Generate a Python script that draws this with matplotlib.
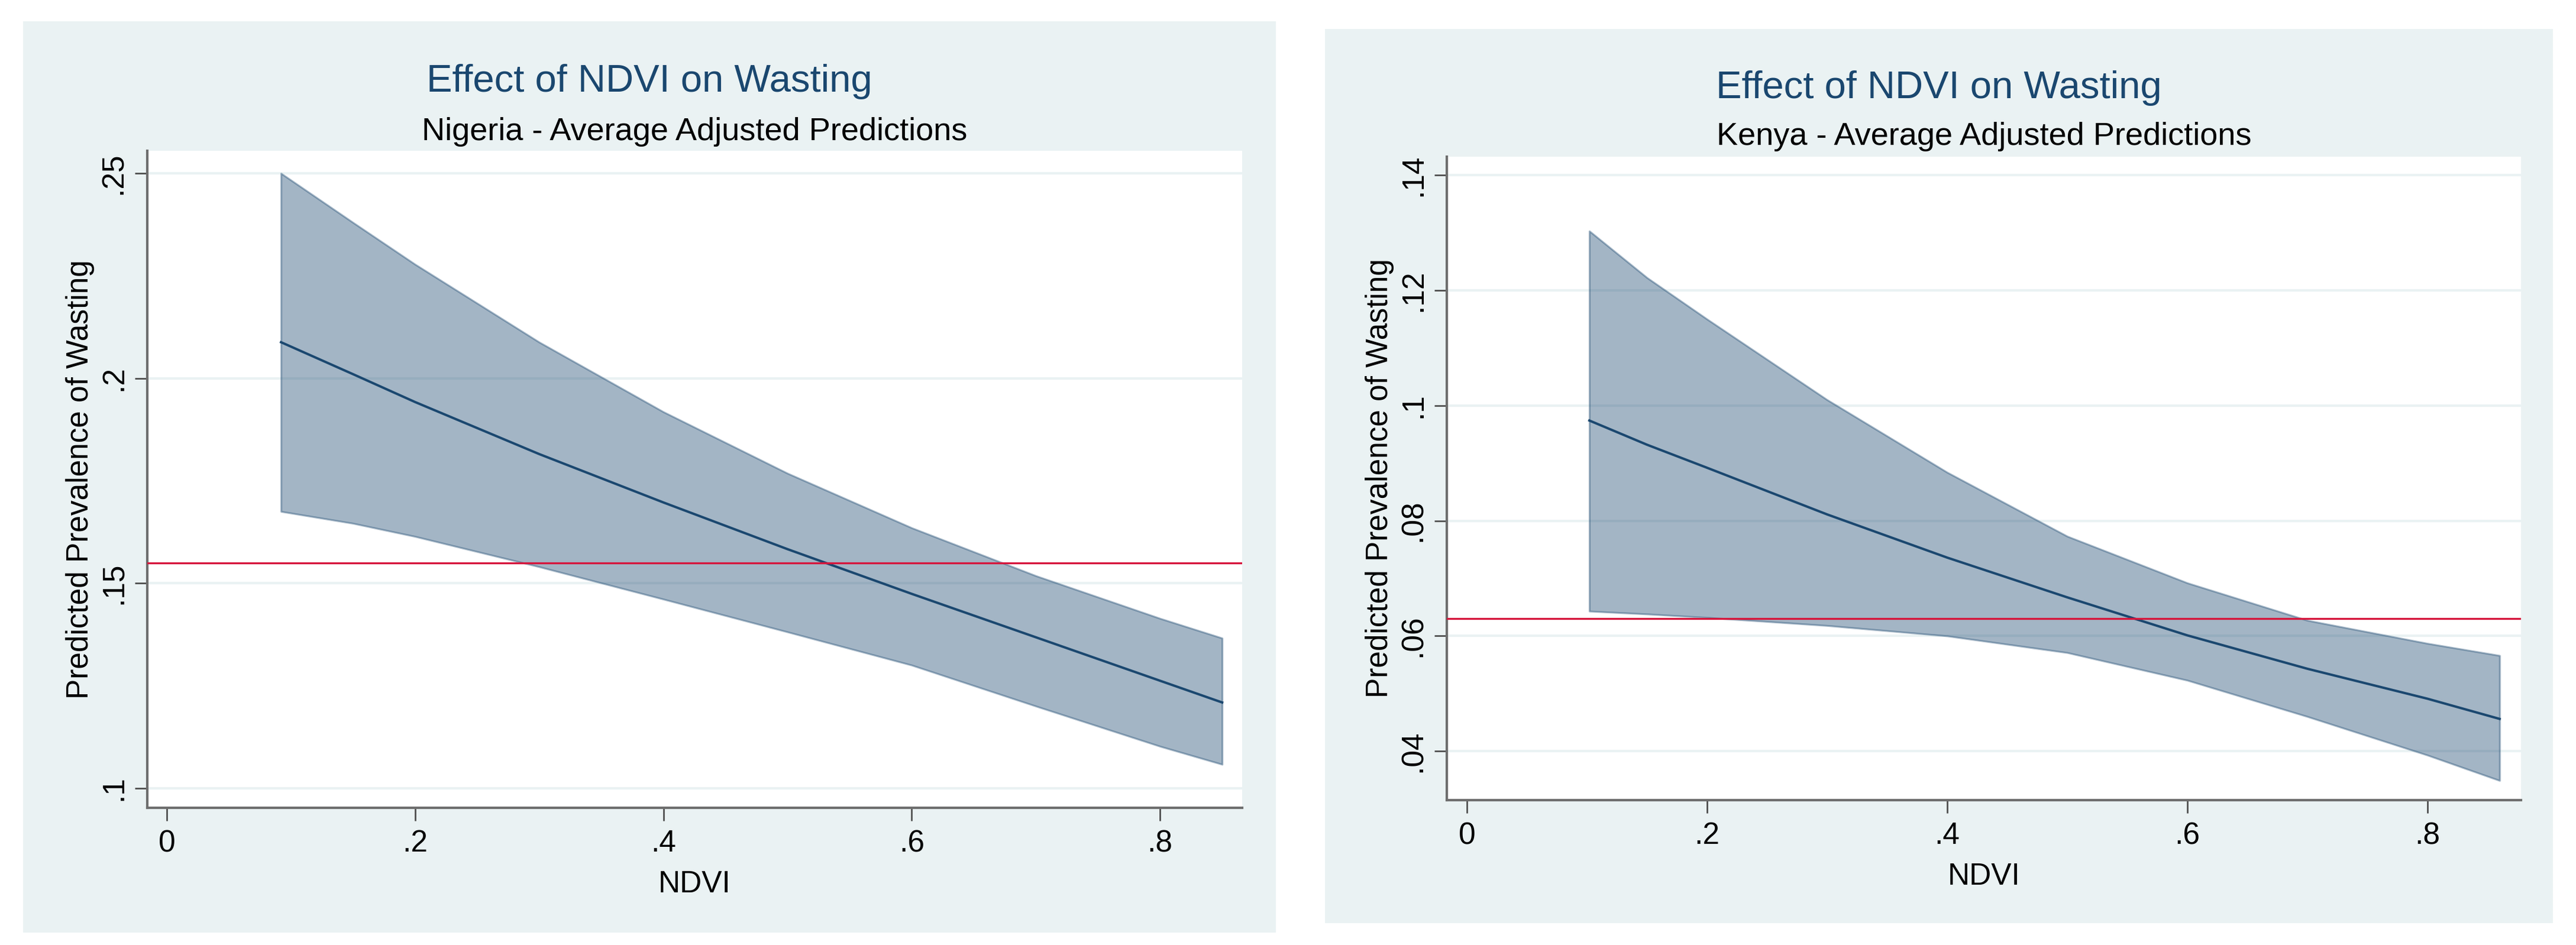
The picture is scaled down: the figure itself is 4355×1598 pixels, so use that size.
import matplotlib
matplotlib.use("Agg")
import matplotlib.pyplot as plt
from matplotlib.patches import Rectangle

# Nigeria - average adjusted predictions
ng_ndvi = [0.092, 0.15, 0.2, 0.3, 0.4, 0.5, 0.6, 0.7, 0.8, 0.85]
ng_mean = [0.2088, 0.2010, 0.1942, 0.1815, 0.1697, 0.1583, 0.1474, 0.1368, 0.1262, 0.1209]
ng_upper = [0.2500, 0.2380, 0.2278, 0.2088, 0.1918, 0.1768, 0.1635, 0.1518, 0.1414, 0.1366]
ng_lower = [0.1675, 0.1646, 0.1614, 0.1540, 0.1461, 0.1381, 0.1300, 0.1200, 0.1102, 0.1058]
ng_ref = 0.155

# Kenya - average adjusted predictions
ke_ndvi = [0.102, 0.15, 0.2, 0.3, 0.4, 0.5, 0.6, 0.7, 0.8, 0.86]
ke_mean = [0.0974, 0.0932, 0.0892, 0.0811, 0.0736, 0.0667, 0.0601, 0.0543, 0.0491, 0.0456]
ke_upper = [0.1303, 0.1222, 0.1150, 0.1010, 0.0884, 0.0773, 0.0692, 0.0627, 0.0587, 0.0566]
ke_lower = [0.0643, 0.0638, 0.0632, 0.0618, 0.0600, 0.0571, 0.0523, 0.0460, 0.0393, 0.0349]
ke_ref = 0.063

x_ticks = [0, 0.2, 0.4, 0.6, 0.8]
x_labels = ["0", ".2", ".4", ".6", ".8"]
ng_yticks = [0.1, 0.15, 0.2, 0.25]
ng_ylabels = [".1", ".15", ".2", ".25"]
ke_yticks = [0.04, 0.06, 0.08, 0.1, 0.12, 0.14]
ke_ylabels = [".04", ".06", ".08", ".1", ".12", ".14"]

NAVY = "#1A476F"
BG = "#EAF2F3"
RED = "#D6163C"
AXIS = "#6E6E6E"

W, H = 4355, 1598
plt.rcParams["font.family"] = ["Liberation Sans", "DejaVu Sans"]

fig = plt.figure(figsize=(W / 100, H / 100), dpi=100)
fig.patch.set_facecolor("white")


def fx(px):
    return px / W


def fy(py):
    return 1 - py / H


def panel(bg_box, plot_box, title_y, sub_y, subtitle, ndvi, mean, upper, lower, ref,
          yticks, ylabels, xlim, ylim):
    # graph region background
    x0, y0, x1, y1 = bg_box
    fig.patches.append(Rectangle((fx(x0), fy(y1)), fx(x1) - fx(x0), fy(y0) - fy(y1),
                                 transform=fig.transFigure, facecolor=BG,
                                 edgecolor="none", zorder=-10))
    px0, py0, px1, py1 = plot_box
    ax = fig.add_axes([fx(px0), fy(py1), fx(px1) - fx(px0), fy(py0) - fy(py1)])
    ax.set_zorder(1)
    ax.set_facecolor("white")

    ax.fill_between(ndvi, lower, upper, facecolor=NAVY, edgecolor=NAVY,
                    alpha=0.4, linewidth=2.2, zorder=2)
    ax.plot(ndvi, mean, color=NAVY, linewidth=2.9, zorder=3)
    ax.axhline(ref, color=RED, linewidth=2.4, zorder=4)

    ax.set_xlim(*xlim)
    ax.set_ylim(*ylim)
    ax.set_xticks(x_ticks)
    ax.set_xticklabels(x_labels)
    ax.set_yticks(yticks)
    ax.set_yticklabels(ylabels, rotation=90, va="center")
    ax.grid(axis="y", color=BG, linewidth=3, zorder=1)
    ax.set_axisbelow(True)

    for side in ["top", "right"]:
        ax.spines[side].set_visible(False)
    for side in ["left", "bottom"]:
        ax.spines[side].set_color(AXIS)
        ax.spines[side].set_linewidth(3)
    ax.tick_params(axis="y", length=15, width=2, color="#505050", pad=8,
                   labelsize=37)
    ax.tick_params(axis="x", length=16, width=2, color="#505050", pad=10,
                   labelsize=37)

    ax.set_xlabel("NDVI", fontsize=37, labelpad=14)
    fig.text(fx(px0 - 100), fy((py0 + py1) / 2), "Predicted Prevalence of Wasting",
             rotation=90, rotation_mode="anchor", ha="center", va="baseline",
             fontsize=37)

    fig.text(fx((x0 + x1) / 2), fy(title_y), "Effect of NDVI on Wasting",
             ha="center", va="baseline", fontsize=47, color=NAVY)
    fig.text(fx((px0 + px1) / 2), fy(sub_y), subtitle,
             ha="center", va="baseline", fontsize=39, color="black")
    return ax


panel((39, 36, 2157, 1577), (249, 255, 2100, 1366), 155, 237,
      "Nigeria - Average Adjusted Predictions",
      ng_ndvi, ng_mean, ng_upper, ng_lower, ng_ref,
      ng_yticks, ng_ylabels, (-0.0157, 0.8661), (0.0952, 0.2555))

panel((2240, 49, 4316, 1561), (2446, 265, 4262, 1353), 166, 245,
      "Kenya - Average Adjusted Predictions",
      ke_ndvi, ke_mean, ke_upper, ke_lower, ke_ref,
      ke_yticks, ke_ylabels, (-0.0167, 0.8778), (0.0315, 0.1432))

fig.savefig("out.png", dpi=100, facecolor="white")
